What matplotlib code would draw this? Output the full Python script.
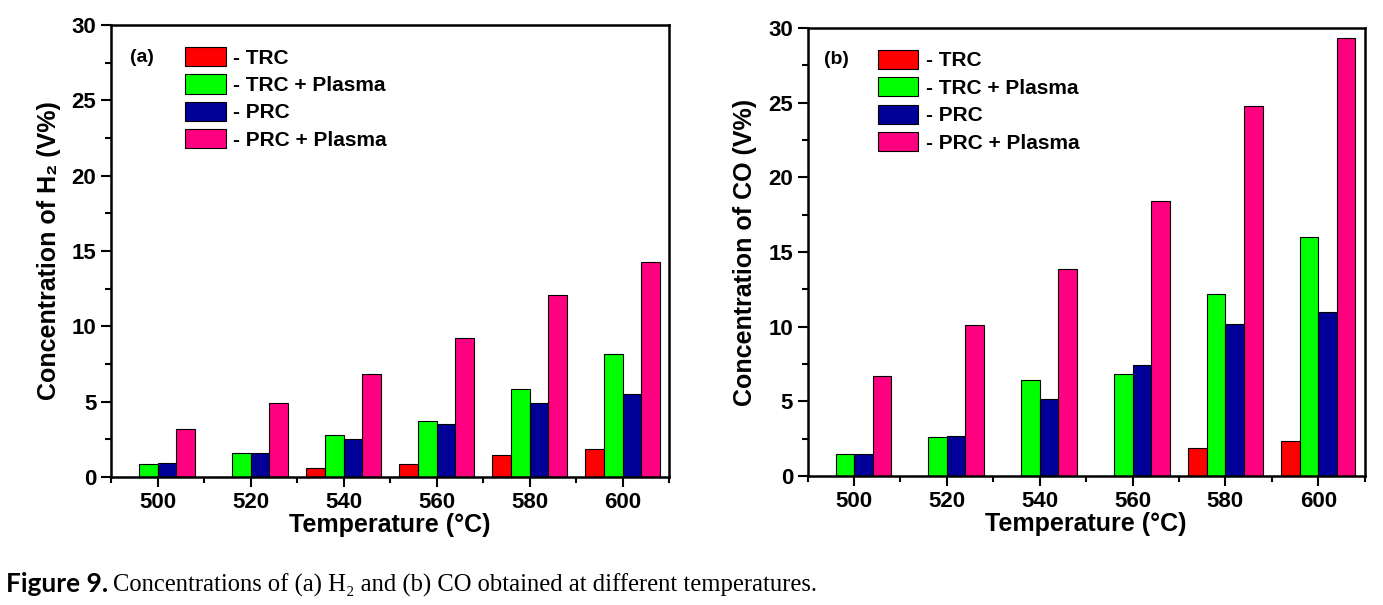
import matplotlib
matplotlib.use('Agg')
import matplotlib.pyplot as plt
import numpy as np
from matplotlib.ticker import MultipleLocator, FixedLocator

plt.rcParams['font.family'] = ['Liberation Sans', 'DejaVu Sans']
plt.rcParams['font.weight'] = 'bold'

temps = [500, 520, 540, 560, 580, 600]
series_names = ['- TRC', '- TRC + Plasma', '- PRC', '- PRC + Plasma']
colors = ['#ff0000', '#00ff00', '#000099', '#ff0080']

# H2 concentration (V%)
h2_trc = [0, 0, 0.62, 0.85, 1.47, 1.87]
h2_trc_plasma = [0.88, 1.58, 2.8, 3.72, 5.84, 8.15]
h2_prc = [0.94, 1.58, 2.52, 3.54, 4.92, 5.52]
h2_prc_plasma = [3.18, 4.88, 6.82, 9.2, 12.09, 14.3]

# CO concentration (V%)
co_trc = [0, 0, 0, 0, 1.91, 2.36]
co_trc_plasma = [1.48, 2.6, 6.44, 6.87, 12.2, 16.04]
co_prc = [1.5, 2.69, 5.14, 7.47, 10.16, 10.97]
co_prc_plasma = [6.69, 10.1, 13.84, 18.4, 24.8, 29.35]


def draw_panel(ax, data, tag, ylabel, leg_x, tag_x):
    x = np.array(temps, dtype=float)
    width = 4
    offsets = [-6, -2, 2, 6]
    for vals, off, col, name in zip(data, offsets, colors, series_names):
        ax.bar(x + off, vals, width=width, color=col, edgecolor='black',
               linewidth=0.8, label=name)
    ax.set_xlim(490, 610)
    ax.set_ylim(0, 30)
    ax.set_xticks(temps)
    ax.xaxis.set_minor_locator(FixedLocator(np.arange(490, 611, 20)))
    ax.yaxis.set_major_locator(MultipleLocator(5))
    ax.yaxis.set_minor_locator(MultipleLocator(2.5))
    ax.tick_params(axis='both', which='major', direction='out', length=7, width=1.5,
                   labelsize=16, top=False, right=False)
    ax.tick_params(axis='both', which='minor', direction='out', length=4, width=1.5,
                   top=False, right=False)
    for s in ax.spines.values():
        s.set_linewidth(1.8)
    ax.set_xlabel('Temperature (°C)', fontsize=18, fontweight='bold', labelpad=0)
    ax.set_ylabel(ylabel, fontsize=18, fontweight='bold', labelpad=8)
    ax.text(tag_x, 0.929, tag, transform=ax.transAxes, fontsize=14,
            fontweight='bold', va='center', ha='left')
    ax.legend(loc='upper left', bbox_to_anchor=(leg_x, 0.952), frameon=False,
              fontsize=15, handlelength=1.95, handleheight=1.05,
              handletextpad=0.35, labelspacing=0.32, borderaxespad=0,
              borderpad=0)


fig = plt.figure(figsize=(13.83, 6.05), dpi=100)
ax1 = fig.add_axes([0.0803, 0.2116, 0.4035, 0.747])
ax2 = fig.add_axes([0.584, 0.213, 0.4027, 0.7405])

draw_panel(ax1, [h2_trc, h2_trc_plasma, h2_prc, h2_prc_plasma], '(a)',
           'Concentration of H₂ (V%)', 0.133, 0.034)
draw_panel(ax2, [co_trc, co_trc_plasma, co_prc, co_prc_plasma], '(b)',
           'Concentration of CO (V%)', 0.126, 0.03)

# caption
fig.canvas.draw()
renderer = fig.canvas.get_renderer()
t1 = fig.text(0.004, 0.022, 'Figure 9.', fontsize=19, fontweight='bold',
              family=['Lato', 'DejaVu Sans'], va='baseline', ha='left')
bb = t1.get_window_extent(renderer=renderer)
x_next = (bb.x1 + 5) / fig.bbox.width
fig.text(x_next, 0.022,
         'Concentrations of (a) H₂ and (b) CO obtained at different temperatures.',
         fontsize=17.7, fontweight='normal', family=['Liberation Serif', 'DejaVu Serif'],
         va='baseline', ha='left')

fig.savefig('out.png', dpi=100)
